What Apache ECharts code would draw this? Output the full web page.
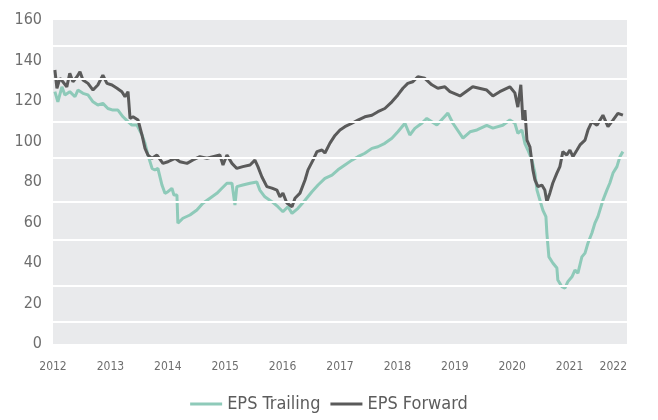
<!DOCTYPE html>
<html>
<head>
<meta charset="utf-8">
<script src="https://cdn.jsdelivr.net/npm/echarts@6/dist/echarts.min.js"></script>
<style>
  html, body { margin: 0; padding: 0; background: #ffffff; }
  #chart { width: 658px; height: 420px; }
</style>
</head>
<body>
<div id="chart"></div>
<script>
var seriesNames = ['EPS Trailing', 'EPS Forward'];
var yTicks = [0, 20, 40, 60, 80, 100, 120, 140, 160];
var xYears = [2012, 2013, 2014, 2015, 2016, 2017, 2018, 2019, 2020, 2021, 2022];
var bandLines = [147.2, 130.9, 109.6, 91.9, 70.1, 51.4, 28.6, 10.9];

var trailingDates = [
  '2012-01-13','2012-02-01','2012-02-27','2012-03-17','2012-04-17','2012-05-20','2012-06-08','2012-07-10','2012-08-11','2012-09-12',
  '2012-10-13','2012-11-14','2012-12-16','2013-01-17','2013-02-18','2013-03-22','2013-04-23','2013-05-18','2013-06-19','2013-07-21',
  '2013-08-09','2013-08-28','2013-09-23','2013-10-11','2013-10-30','2013-11-25','2013-12-14','2014-01-02','2014-01-27','2014-02-09',
  '2014-02-28','2014-03-06','2014-04-07','2014-05-22','2014-07-05','2014-08-12','2014-09-26','2014-11-09','2014-12-11','2015-01-12',
  '2015-02-13','2015-03-04','2015-03-16','2015-04-23','2015-06-08','2015-07-21','2015-08-09','2015-09-10','2015-10-25','2015-12-02',
  '2016-01-03','2016-02-04','2016-03-01','2016-04-08','2016-05-23','2016-07-06','2016-08-14','2016-09-27','2016-11-11','2016-12-19',
  '2017-02-01','2017-03-18','2017-04-25','2017-06-08','2017-07-23','2017-08-30','2017-10-13','2017-11-27','2018-01-04','2018-02-18',
  '2018-03-21','2018-04-22','2018-06-05','2018-07-07','2018-08-08','2018-09-09','2018-10-17','2018-11-18','2018-12-20','2019-02-22',
  '2019-04-08','2019-05-22','2019-07-23','2019-08-31','2019-11-02','2019-12-17','2020-01-18','2020-02-06','2020-03-03','2020-03-22',
  '2020-04-10','2020-05-06','2020-05-25','2020-06-07','2020-06-26','2020-07-15','2020-08-03','2020-08-09','2020-08-22','2020-09-16',
  '2020-10-12','2020-10-18','2020-11-13','2020-12-02','2020-12-21','2021-01-16','2021-02-04','2021-02-23','2021-03-20','2021-04-09',
  '2021-04-28','2021-05-23','2021-06-11','2021-06-30','2021-08-01','2021-08-26','2021-09-14','2021-10-04','2021-10-29','2021-11-17',
  '2021-12-06'
];
var trailingValues = [
  124.6,119.6,127,123,124.6,122.1,125.4,123.8,123,119.6,
  118,118.8,116.3,115.5,115.5,112.2,109.8,108.1,108.1,103.2,
  99.1,93.3,86.7,85.9,86.7,78.5,74.4,75.2,76.9,73.6,
  73.6,59.6,62.1,63.7,66.2,69.5,72,74.4,76.9,79.4,
  79.4,68.6,77.7,78.5,79.4,80,76,72.7,70.3,67.8,
  65.3,67.8,64.5,67,71,75.2,78.5,81.8,83.4,86,
  88.4,90.8,92.5,94.2,96.6,97.4,99.1,101.6,104.8,109,
  103.2,106.5,109,111.4,109.8,108.1,111.4,114,109,101.7,
  104.8,105.7,108,106.6,108,110.6,109,104,105.7,99,
  95.8,90.8,84.4,76,71,66,62.9,54.8,43,40,
  37.5,31.6,28.3,27.6,30.8,33.2,36.5,35,43,44.9,
  49.9,54.8,59.7,62.9,71,76,79.5,84.4,87.6,92.5,
  95
];

var forwardDates = [
  '2012-01-13','2012-01-26','2012-02-14','2012-03-04','2012-03-29','2012-04-17','2012-05-07','2012-06-02','2012-06-21','2012-07-10',
  '2012-08-11','2012-09-12','2012-10-13','2012-11-14','2012-12-10','2013-01-11','2013-02-12','2013-03-15','2013-04-04','2013-04-23',
  '2013-05-06','2013-05-25','2013-06-26','2013-07-21','2013-08-09','2013-08-28','2013-09-23','2013-10-24','2013-12-01','2014-01-02',
  '2014-02-16','2014-03-19','2014-05-03','2014-06-10','2014-07-24','2014-09-07','2014-10-15','2014-11-28','2014-12-18','2015-01-12',
  '2015-02-13','2015-03-16','2015-04-23','2015-06-08','2015-07-09','2015-07-28','2015-08-22','2015-09-23','2015-10-25','2015-11-26',
  '2015-12-15','2016-01-03','2016-01-28','2016-03-01','2016-03-20','2016-04-21','2016-05-23','2016-06-11','2016-07-13','2016-08-07',
  '2016-09-08','2016-09-27','2016-10-29','2016-11-30','2017-01-01','2017-02-01','2017-03-18','2017-04-25','2017-06-08','2017-07-23',
  '2017-08-30','2017-10-13','2017-11-27','2018-01-04','2018-02-05','2018-03-08','2018-04-09','2018-05-11','2018-06-24','2018-08-08',
  '2018-09-15','2018-10-30','2018-12-01','2019-02-03','2019-04-25','2019-07-23','2019-08-31','2019-10-14','2019-12-17','2020-01-18',
  '2020-02-06','2020-02-25','2020-03-09','2020-03-22','2020-04-04','2020-04-23','2020-05-12','2020-05-25','2020-06-13','2020-07-08',
  '2020-07-27','2020-08-09','2020-08-28','2020-09-16','2020-10-12','2020-10-31','2020-11-19','2020-12-14','2021-01-03','2021-01-22',
  '2021-02-17','2021-03-08','2021-04-09','2021-04-28','2021-05-23','2021-06-24','2021-08-01','2021-09-02','2021-10-04','2021-11-04',
  '2021-12-06'
];
var forwardValues = [
  135.3,126.3,131.2,129.5,127,133.7,129.5,132,134.5,130.4,
  128.7,125.4,127.9,132.8,128.7,127.9,126.3,124.6,122.1,124.6,
  111.4,112.2,110.6,103.2,96.6,93.3,91.7,93.3,89.2,90,
  91.7,90,89.2,90.9,92.5,91.7,92.5,93.3,88.4,93.3,
  89.2,86.7,87.6,88.4,90.8,87.6,82.6,77.7,77,76,
  72.7,74.5,69.6,67.8,72,74.5,81,86,90.8,95,
  95.8,94.3,99.2,103,105.7,107.3,109,110.6,112.2,113,
  114.7,116.3,119.6,123,126.3,128.7,129.5,132,131.2,128,
  126.3,127,124.6,122.5,127,125.4,122.5,124.6,127,124,
  117,128,110.6,115.5,100.7,97.4,86,81,77.7,78.5,
  76,70.3,74.5,79.5,84.4,87.6,95,93.3,95.8,92.5,
  95.8,98.3,100.7,105.7,109.8,108,113,107.3,110.6,113.9,
  113
];

// convert an ISO date string to a fractional year for the numeric x axis
function yearFrac(s) {
  var p = s.split('-');
  var y = +p[0];
  var start = Date.UTC(y, 0, 1);
  var end = Date.UTC(y + 1, 0, 1);
  var t = Date.UTC(y, +p[1] - 1, +p[2]);
  return y + (t - start) / (end - start);
}
function pairs(dates, values) {
  return dates.map(function (d, i) { return [yearFrac(d), values[i]]; });
}

var FONT = "'DejaVu Sans Condensed', 'DejaVu Sans', sans-serif";
var chart = echarts.init(document.getElementById('chart'), null, { renderer: 'canvas' });

chart.setOption({
  animation: false,
  backgroundColor: '#ffffff',
  grid: {
    left: 53, right: 31, top: 20, bottom: 76,
    show: true, backgroundColor: '#e9eaec', borderWidth: 0
  },
  legend: {
    data: seriesNames,
    bottom: 2,
    left: 'center',
    icon: 'rect',
    itemWidth: 32,
    itemHeight: 3,
    itemGap: 10,
    textStyle: { fontFamily: FONT, fontSize: 18, color: '#5c5c5c' }
  },
  xAxis: {
    type: 'value',
    min: xYears[0],
    max: xYears[xYears.length - 1],
    interval: 1,
    axisLine: { show: false },
    axisTick: { show: false },
    splitLine: { show: false },
    axisLabel: {
      formatter: function (v) { return String(Math.round(v)); },
      margin: 17,
      fontFamily: FONT,
      fontSize: 12,
      color: '#6e6e6e',
      showMinLabel: true,
      showMaxLabel: true,
      alignMaxLabel: 'right'
    }
  },
  yAxis: {
    type: 'value',
    min: yTicks[0],
    max: yTicks[yTicks.length - 1],
    interval: yTicks[1] - yTicks[0],
    axisLine: { show: false },
    axisTick: { show: false },
    splitLine: { show: false },
    axisLabel: {
      margin: 11,
      fontFamily: FONT,
      fontSize: 16,
      color: '#6e6e6e'
    }
  },
  series: [
    {
      type: 'line',
      data: [],
      silent: true,
      z: 1,
      markLine: {
        silent: true,
        symbol: ['none', 'none'],
        label: { show: false },
        lineStyle: { color: '#ffffff', width: 2, type: 'solid' },
        emphasis: { disabled: true },
        data: bandLines.map(function (v) { return { yAxis: v }; })
      }
    },
    {
      name: seriesNames[0],
      type: 'line',
      data: pairs(trailingDates, trailingValues),
      showSymbol: false,
      symbol: 'none',
      z: 3,
      color: '#8ecab9',
      lineStyle: { color: '#8ecab9', width: 3 }
    },
    {
      name: seriesNames[1],
      type: 'line',
      data: pairs(forwardDates, forwardValues),
      showSymbol: false,
      symbol: 'none',
      z: 4,
      color: '#5a5a5a',
      lineStyle: { color: '#5a5a5a', width: 3 }
    }
  ]
});
</script>
</body>
</html>
